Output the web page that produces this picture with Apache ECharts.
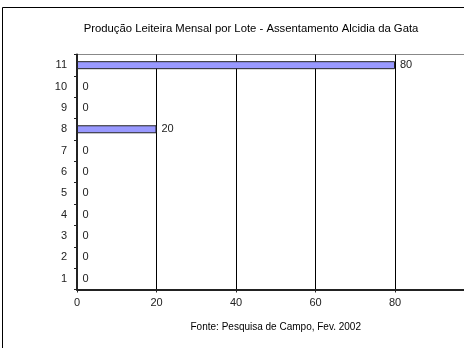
<!DOCTYPE html>
<html>
<head>
<meta charset="utf-8">
<script src="https://cdn.jsdelivr.net/npm/echarts@6/dist/echarts.min.js"></script>
<style>
  html, body { margin: 0; padding: 0; background: #fff; overflow: hidden; width: 464px; height: 348px; }
  #chart { width: 490px; height: 348px; }
</style>
</head>
<body>
<div id="chart"></div>
<script>
// Lotes (eixo vertical) e produção mensal de leite
const lotes = ['1', '2', '3', '4', '5', '6', '7', '8', '9', '10', '11'];
const producao = [0, 0, 0, 0, 0, 0, 0, 20, 0, 0, 80];
const ticksX = [0, 20, 40, 60, 80, 100];

const titulo = 'Produção Leiteira Mensal por Lote - Assentamento Alcidia da Gata';
const fonte = 'Fonte: Pesquisa de Campo, Fev. 2002';

const FONT = 'Liberation Sans, Arial, sans-serif';

const chart = echarts.init(document.getElementById('chart'));
chart.setOption({
  animation: false,
  backgroundColor: '#fff',
  textStyle: { fontFamily: FONT },
  title: {
    text: titulo,
    left: 246,
    top: 18,
    textAlign: 'center',
    textStyle: { fontSize: 11.3, fontWeight: 'normal', color: '#000', fontFamily: FONT }
  },
  graphic: [
    {
      type: 'rect',
      shape: { x: 2.5, y: 7.5, width: 600, height: 400 },
      style: { fill: 'none', stroke: '#000', lineWidth: 1 },
      silent: true
    }
  ],
  grid: {
    left: 77,
    top: 54.5,
    right: 15.5,
    bottom: 58.5,
    show: true,
    borderColor: '#888',
    borderWidth: 1,
    backgroundColor: 'transparent'
  },
  xAxis: {
    type: 'value',
    min: ticksX[0],
    max: ticksX[ticksX.length - 1],
    interval: 20,
    name: fonte,
    nameLocation: 'middle',
    nameGap: 33,
    nameTextStyle: { fontSize: 10, color: '#000', fontFamily: FONT },
    axisLine: { show: true, lineStyle: { color: '#222', width: 2 } },
    axisTick: { show: true, length: 3, lineStyle: { color: '#222' } },
    axisLabel: { fontSize: 11, color: '#222', margin: 8, fontFamily: FONT },
    splitLine: { show: true, lineStyle: { color: '#000', width: 1 } }
  },
  yAxis: {
    type: 'category',
    data: lotes,
    axisLine: { show: true, lineStyle: { color: '#222', width: 2 } },
    axisTick: { show: true, length: 3, lineStyle: { color: '#222' } },
    axisLabel: { fontSize: 11, color: '#222', margin: 10, fontFamily: FONT },
    splitLine: { show: false }
  },
  series: [{
    type: 'bar',
    data: producao,
    barWidth: 8,
    itemStyle: { color: '#9999FF', borderColor: '#222', borderWidth: 1 },
    label: {
      show: true,
      position: 'right',
      distance: 5,
      fontSize: 11,
      color: '#222',
      fontFamily: FONT
    }
  }]
});
</script>
</body>
</html>
